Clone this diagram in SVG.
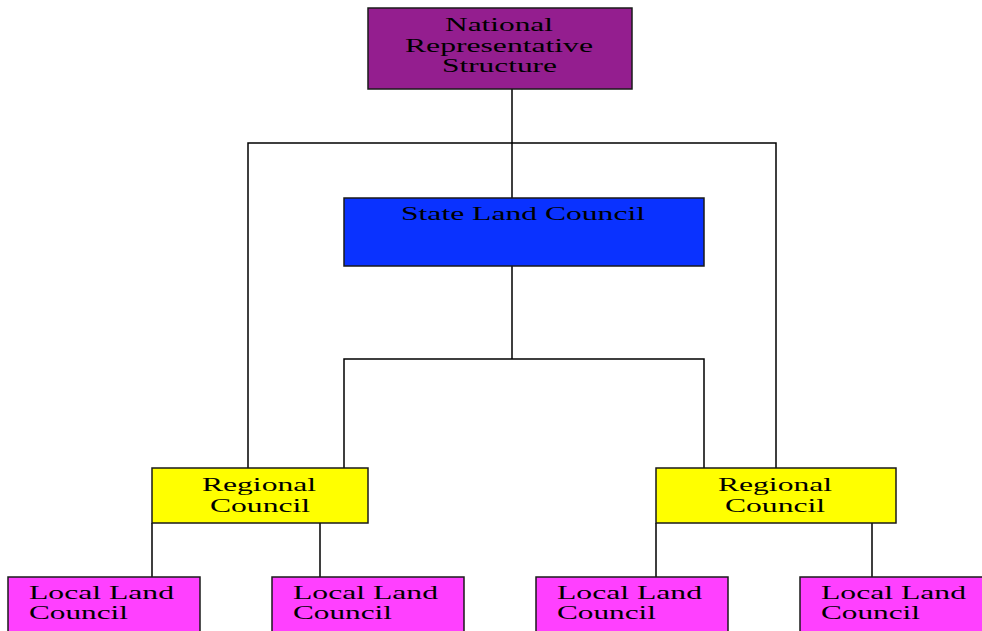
<svg xmlns="http://www.w3.org/2000/svg" width="982" height="631" viewBox="0 0 982 631">
<style>
.box{stroke:#1a1a1a;stroke-width:1.5}
.t{font-family:"Liberation Serif","Times New Roman",serif;font-size:19px;fill:#000}
.c{fill:none;stroke:#000;stroke-width:1.5}
</style>
<rect width="982" height="631" fill="#fff"/>
<g id="connectors">
<path class="c" d="M512,89V198M248,468V143H776V468"/>
<path class="c" d="M512,266V359M344,468V359H704V468"/>
<path class="c" d="M152,523V577M320,523V577"/>
<path class="c" d="M656,523V577M872,523V577"/>
</g>
<g id="national">
<rect class="box" x="368" y="8" width="264" height="81" fill="#941e8f"/>
<text class="t" x="445" y="31" textLength="108" lengthAdjust="spacingAndGlyphs">National</text>
<text class="t" x="405" y="52" textLength="188" lengthAdjust="spacingAndGlyphs">Representative</text>
<text class="t" x="442" y="72" textLength="115" lengthAdjust="spacingAndGlyphs">Structure</text>
</g>
<g id="state">
<rect class="box" x="344" y="198" width="360" height="68" fill="#0a32ff"/>
<text class="t" x="401" y="220" textLength="244" lengthAdjust="spacingAndGlyphs">State Land Council</text>
</g>
<g id="regional-left">
<rect class="box" x="152" y="468" width="216" height="55" fill="#ffff00"/>
<text class="t" x="202" y="491" textLength="114" lengthAdjust="spacingAndGlyphs">Regional</text>
<text class="t" x="210" y="512" textLength="100" lengthAdjust="spacingAndGlyphs">Council</text>
</g>
<g id="regional-right">
<rect class="box" x="656" y="468" width="240" height="55" fill="#ffff00"/>
<text class="t" x="718" y="491" textLength="114" lengthAdjust="spacingAndGlyphs">Regional</text>
<text class="t" x="725" y="512" textLength="100" lengthAdjust="spacingAndGlyphs">Council</text>
</g>
<g id="local-1">
<rect class="box" x="8" y="577" width="192" height="60" fill="#ff40ff"/>
<text class="t" x="29" y="599" textLength="145" lengthAdjust="spacingAndGlyphs">Local Land</text>
<text class="t" x="29" y="619" textLength="99" lengthAdjust="spacingAndGlyphs">Council</text>
</g>
<g id="local-2">
<rect class="box" x="272" y="577" width="192" height="60" fill="#ff40ff"/>
<text class="t" x="293" y="599" textLength="145" lengthAdjust="spacingAndGlyphs">Local Land</text>
<text class="t" x="293" y="619" textLength="99" lengthAdjust="spacingAndGlyphs">Council</text>
</g>
<g id="local-3">
<rect class="box" x="536" y="577" width="192" height="60" fill="#ff40ff"/>
<text class="t" x="557" y="599" textLength="145" lengthAdjust="spacingAndGlyphs">Local Land</text>
<text class="t" x="557" y="619" textLength="99" lengthAdjust="spacingAndGlyphs">Council</text>
</g>
<g id="local-4">
<rect class="box" x="800" y="577" width="192" height="60" fill="#ff40ff"/>
<text class="t" x="821" y="599" textLength="145" lengthAdjust="spacingAndGlyphs">Local Land</text>
<text class="t" x="821" y="619" textLength="99" lengthAdjust="spacingAndGlyphs">Council</text>
</g>
</svg>
